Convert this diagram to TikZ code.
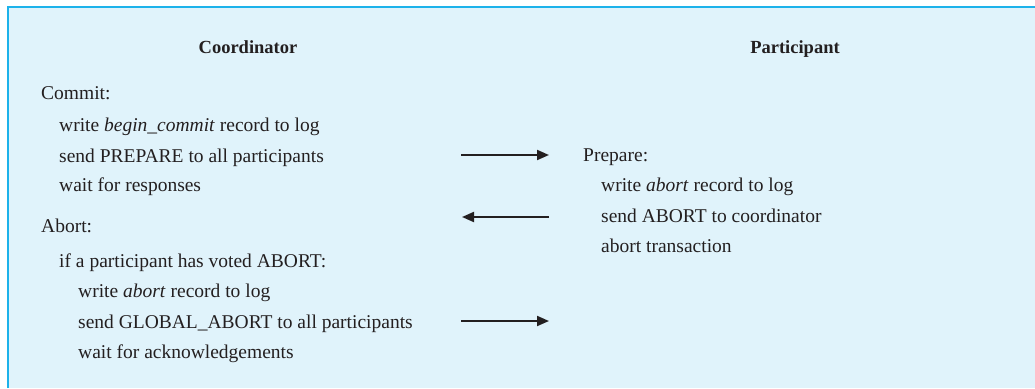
\documentclass[tikz,border=0pt]{standalone}
\usepackage{fontspec}
\setmainfont{Liberation Serif}
\usetikzlibrary{arrows.meta}
\definecolor{panelfill}{HTML}{E0F3FB}
\definecolor{panelrule}{HTML}{1DB2EA}
\definecolor{inktext}{HTML}{231F20}

\begin{document}
\begin{tikzpicture}[x=1pt, y=-1pt,
    line/.style = {anchor=base west, inner sep=0pt, font=\fontsize{19.5}{24}\selectfont, text=inktext},
    head/.style = {anchor=base, inner sep=0pt, font=\fontsize{18.5}{24}\selectfont\bfseries, text=inktext},
    msg/.style = {-{Triangle[length=12pt, width=10pt]}, line width=2pt, draw=inktext}]
    \useasboundingbox (0,0) rectangle (1035,388);
    \fill[panelfill] (8,7) rectangle (1035,388);
    \draw[panelrule, line width=2.5pt] (8,388) -- (8,7) -- (1035,7);

    \node[head] (coord) at (248,53) {Coordinator};
    \node[head] (part) at (795,53) {Participant};

    \node[line] (commit) at (41,99) {Commit:};
    \node[line] (beginlog) at (59,131) {write \textit{begin\_commit} record to log};
    \node[line] (sendprep) at (59,162) {send PREPARE to all participants};
    \node[line] (waitresp) at (59,191) {wait for responses};

    \node[line] (abort) at (41,232) {Abort:};
    \node[line] (ifvoted) at (59,267) {if a participant has voted ABORT:};
    \node[line] (abortlog) at (78,297) {write \textit{abort} record to log};
    \node[line] (sendglob) at (78,328) {send GLOBAL\_ABORT to all participants};
    \node[line] (waitack) at (78,358) {wait for acknowledgements};

    \node[line] (prepare) at (583,161) {Prepare:};
    \node[line] (pabortlog) at (601,191) {write \textit{abort} record to log};
    \node[line] (sendabort) at (601,222) {send ABORT to coordinator};
    \node[line] (aborttx) at (601,252) {abort transaction};

    \coordinate (prepout) at (461,155);
    \coordinate (prepin) at (549,155);
    \coordinate (voteout) at (549,217);
    \coordinate (votein) at (462,217);
    \coordinate (globout) at (461,321);
    \coordinate (globin) at (549,321);

    \draw[msg] (prepout) -- (prepin);
    \draw[msg] (voteout) -- (votein);
    \draw[msg] (globout) -- (globin);
\end{tikzpicture}
\end{document}
